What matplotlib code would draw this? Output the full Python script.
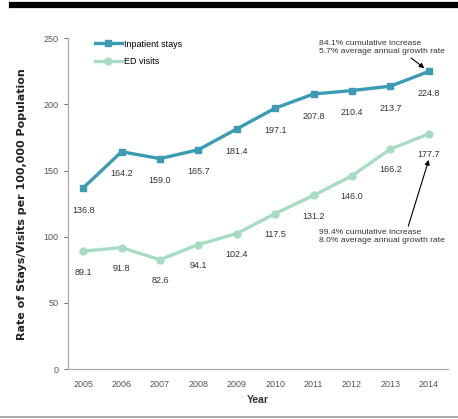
import matplotlib.pyplot as plt
from matplotlib.lines import Line2D

plt.rcParams['font.family'] = ['Liberation Sans', 'DejaVu Sans']

years = [2005, 2006, 2007, 2008, 2009, 2010, 2011, 2012, 2013, 2014]
inpatient = [136.8, 164.2, 159.0, 165.7, 181.4, 197.1, 207.8, 210.4, 213.7, 224.8]
ed_visits = [89.1, 91.8, 82.6, 94.1, 102.4, 117.5, 131.2, 146.0, 166.2, 177.7]
inpatient_note = "84.1% cumulative increase\n5.7% average annual growth rate"
ed_note = "99.4% cumulative increase\n8.0% average annual growth rate"

c_in = '#3a9bb3'
c_ed = '#a8dcc2'

fig = plt.figure(figsize=(4.58, 4.19), dpi=100)
ax = fig.add_axes([0.148, 0.119, 0.83, 0.79])

# heavy rule at the top, thin one at the bottom
fig.add_artist(Line2D([0.027, 1.0], [0.988, 0.988], color='black', lw=4.5))
fig.add_artist(Line2D([0.0, 1.0], [0.004, 0.004], color='#999999', lw=1.2))

ax.plot(years, inpatient, color=c_in, lw=2.4, marker='s', ms=5, label='Inpatient stays')
ax.plot(years, ed_visits, color=c_ed, lw=2.4, marker='o', ms=5, label='ED visits')

for x, y in zip(years, inpatient):
    ax.annotate(f"{y:.1f}", (x, y), xytext=(0, -16), textcoords='offset points',
                ha='center', va='center', fontsize=6.5, color='#333333')
for x, y in zip(years, ed_visits):
    ax.annotate(f"{y:.1f}", (x, y), xytext=(0, -15), textcoords='offset points',
                ha='center', va='center', fontsize=6.5, color='#333333')

ax.annotate(inpatient_note, xy=(years[-1], inpatient[-1]), xytext=(2011.15, 243),
            fontsize=6.1, color='#333333', ha='left', va='center', linespacing=1.3,
            arrowprops=dict(arrowstyle='-|>', color='black', lw=0.8, mutation_scale=7,
                            shrinkA=0, shrinkB=4, relpos=(0.7, 0.0)))
ax.annotate(ed_note, xy=(years[-1], 158), xytext=(2011.15, 100),
            fontsize=6.1, color='#333333', ha='left', va='center', linespacing=1.3,
            arrowprops=dict(arrowstyle='-|>', color='black', lw=0.8, mutation_scale=7,
                            shrinkA=0, shrinkB=0, relpos=(0.7, 1.0)))

ax.set_xlim(2004.6, 2014.5)
ax.set_ylim(0, 250)
ax.set_xticks(years)
ax.set_yticks([0, 50, 100, 150, 200, 250])
ax.tick_params(labelsize=6.5, colors='#555555', length=3, width=0.6)
ax.tick_params(axis='x', length=0, pad=8)
for s in ['top', 'right']:
    ax.spines[s].set_visible(False)
for s in ['left', 'bottom']:
    ax.spines[s].set_color('#aaaaaa')
    ax.spines[s].set_linewidth(0.9)

ax.set_xlabel('Year', fontsize=7.5, fontweight='bold', color='#333333', labelpad=4)
ax.set_ylabel('Rate of Stays/Visits per 100,000 Population', fontsize=8, fontweight='bold',
              family='DejaVu Sans', color='#222222', labelpad=12)

ax.legend(loc='upper left', bbox_to_anchor=(0.05, 1.02), frameon=False, fontsize=6.5,
          handlelength=3, labelspacing=0.9, handletextpad=0.2)

fig.savefig('out.png', dpi=100, facecolor='white')
